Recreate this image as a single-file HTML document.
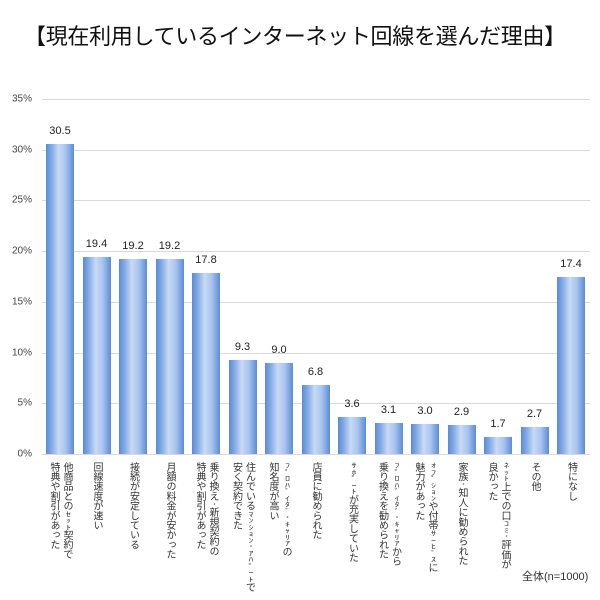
<!DOCTYPE html>
<html><head><meta charset="utf-8"><style>
body{margin:0;width:600px;height:600px;background:#fff;position:relative;overflow:hidden;font-family:"Liberation Sans","Noto Sans CJK JP",sans-serif;}
.t{position:absolute;left:24px;top:19px;font-size:22px;color:#111;white-space:nowrap;letter-spacing:-0.3px}
.g{position:absolute;left:42px;width:548px;height:1px;background:#d9d9d9}
.yl{position:absolute;right:568px;font-size:10px;color:#444;transform:translateY(-50%)}
.b{position:absolute;width:28px;background:linear-gradient(to right,#5a8ad6 0%,#8fb3e8 25%,#c8daf4 45%,#a9c4ee 70%,#5c8cd8 100%)}
.v{position:absolute;width:40px;text-align:center;font-size:11px;color:#222}
.c{position:absolute;top:462px;writing-mode:vertical-rl;text-orientation:upright;font-size:10px;line-height:13px;letter-spacing:-0.3px;color:#333;white-space:nowrap;transform:translateX(-50%)}
.h{display:inline-block;height:6.5px;overflow:visible}
.h i{font-style:normal;display:block;transform:scaleY(0.65);transform-origin:top}
.n{position:absolute;left:522px;top:568px;font-size:11px;color:#333}
</style></head><body>
<div class="t">【現在利用しているインターネット回線を選んだ理由】</div>
<div id="c"></div>
<div class="n">全体(n=1000)</div>
<script>
var d=[[30.5,"他商品とのｾｯﾄ契約で<br>特典や割引があった"],[19.4,"回線速度が速い"],[19.2,"接続が安定している"],[19.2,"月額の料金が安かった"],[17.8,"乗り換え･新規契約の<br>特典や割引があった"],[9.3,"住んでいるﾏﾝｼｮﾝ･ｱﾊﾟｰﾄで<br>安く契約できた"],[9.0,"ﾌﾟﾛﾊﾞｲﾀﾞ･ｷｬﾘｱの<br>知名度が高い"],[6.8,"店員に勧められた"],[3.6,"ｻﾎﾟｰﾄが充実していた"],[3.1,"ﾌﾟﾛﾊﾞｲﾀﾞ･ｷｬﾘｱから<br>乗り換えを勧められた"],[3.0,"ｵﾌﾟｼｮﾝや付帯ｻｰﾋﾞｽに<br>魅力があった"],[2.9,"家族･知人に勧められた"],[1.7,"ﾈｯﾄ上での口ｺﾐ･評価が<br>良かった"],[2.7,"その他"],[17.4,"特になし"]];
function hw(s){return s.replace(/[\uFF61-\uFF9F]/g,function(c){return '<span class="h"><i>'+c+'</i></span>';});}
var h="",base=454,s=10.15;
for(var i=0;i<=7;i++){var y=base-i*5*s;h+='<div class="g" style="top:'+Math.round(y)+'px"></div><div class="yl" style="top:'+y+'px">'+(i*5)+'%</div>';}
d.forEach(function(e,i){var cx=60+i*36.5,top=base-e[0]*s;
h+='<div class="b" style="left:'+(cx-14)+'px;top:'+top+'px;height:'+(base-top)+'px"></div>';
h+='<div class="v" style="left:'+(cx-20)+'px;top:'+(top-19)+'px">'+e[0].toFixed(1)+'</div>';
h+='<div class="c" style="left:'+cx+'px">'+hw(e[1])+'</div>';});
document.getElementById("c").innerHTML=h;
</script>
</body></html>
